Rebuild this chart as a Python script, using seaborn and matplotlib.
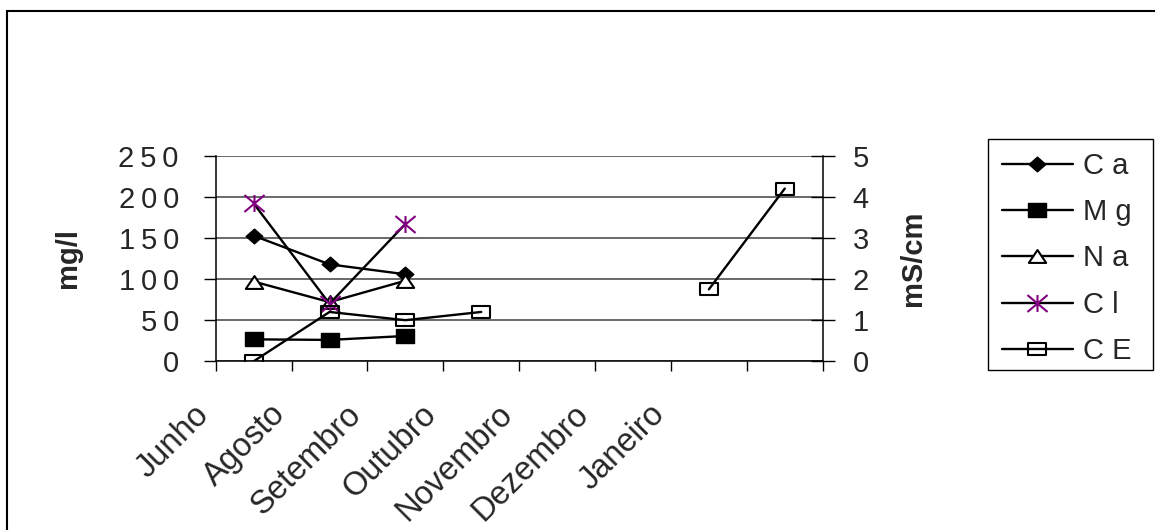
import numpy as np
import matplotlib
matplotlib.use("Agg")
import matplotlib.pyplot as plt
from matplotlib.path import Path
from matplotlib.patches import Rectangle
from matplotlib.transforms import ScaledTranslation
from matplotlib.ticker import FixedLocator, FuncFormatter
import seaborn as sns

nan = np.nan

# Sampling months (the last slot is unlabelled)
months = ["Junho", "Agosto", "Setembro", "Outubro", "Novembro", "Dezembro", "Janeiro", ""]

# Ion concentrations, mg/l
ca = [152.7, 117.9, 105.8, nan, nan, nan, nan, nan]
mg = [26.7, 26.0, 30.8, nan, nan, nan, nan, nan]
na = [97.0, 72.0, 98.0, nan, nan, nan, nan, nan]
cl = [192.0, 70.0, 167.0, nan, nan, nan, nan, nan]

# Electrical conductivity, mS/cm
ce = [0.0, 1.2, 1.0, 1.2, nan, nan, 1.75, 4.2]

mgl_ticks = [0, 50, 100, 150, 200, 250]
mscm_ticks = [0, 1, 2, 3, 4, 5]

sns.set_theme(style="white")
plt.rcParams["font.family"] = ["Liberation Sans", "DejaVu Sans"]
FS = 21
FS_X = 23.5

M, L, C = Path.MOVETO, Path.LINETO, Path.CLOSEPOLY


def box(h):
    return Path([(-0.5, -h), (0.5, -h), (0.5, h), (-0.5, h), (-0.5, -h)], [M, L, L, L, C])


diamond = Path([(0, 0.44), (0.5, 0), (0, -0.44), (-0.5, 0), (0, 0.44)], [M, L, L, L, C])
triangle = Path([(0, 0.37), (0.5, -0.37), (-0.5, -0.37), (0, 0.37)], [M, L, L, C])
star = Path([(0, -0.42), (0, 0.42), (-0.5, -0.42), (0.5, 0.42), (-0.5, 0.42), (0.5, -0.42)],
            [M, L, M, L, M, L])

LW = 1.7
styles = {
    "Ca": dict(marker=diamond, markersize=12, markerfacecolor="black", markeredgecolor="black",
               markeredgewidth=1.0),
    "Mg": dict(marker=box(0.39), markersize=13.5, markerfacecolor="black", markeredgecolor="black",
               markeredgewidth=1.0),
    "Na": dict(marker=triangle, markersize=12.5, markerfacecolor="white", markeredgecolor="black",
               markeredgewidth=1.5),
    "Cl": dict(marker=star, markersize=14.5, markerfacecolor="none", markeredgecolor="#800080",
               markeredgewidth=1.5),
    "CE": dict(marker=box(0.37), markersize=12.5, markerfacecolor="none", markeredgecolor="black",
               markeredgewidth=1.5),
}


def draw(axis, values, label, style):
    y = np.asarray(values, dtype=float)
    x = np.arange(len(y))
    idx = np.flatnonzero(~np.isnan(y))
    runs = np.split(idx, np.flatnonzero(np.diff(idx) > 1) + 1)
    for i, r in enumerate(runs):
        sns.lineplot(x=x[r], y=y[r], ax=axis, color="black", linewidth=LW, sort=False,
                     estimator=None, errorbar=None, legend=False,
                     label=label if i == 0 else "_nolegend_", **style)


W, H = 1155, 530
fig = plt.figure(figsize=(W / 100, H / 100), dpi=100)
fig.patch.set_facecolor("white")
x0, x1, ytop, ybot = 215.7, 822.7, 155.7, 361.3
ax = fig.add_axes([x0 / W, 1 - ybot / H, (x1 - x0) / W, (ybot - ytop) / H])
ax2 = ax.twinx()

draw(ax, ca, "C a", styles["Ca"])
draw(ax, mg, "M g", styles["Mg"])
draw(ax, na, "N a", styles["Na"])
draw(ax, cl, "C l", styles["Cl"])
draw(ax2, ce, "C E", styles["CE"])

# Category axis
ax.set_xlim(-0.5, len(months) - 0.5)
ax.set_xticks(np.arange(len(months)))
ax.set_xticklabels(months, rotation=45, ha="right", va="top", rotation_mode="anchor",
                   fontsize=FS_X)
ax.xaxis.set_minor_locator(FixedLocator(np.arange(-0.5, len(months), 1.0)))
ax.tick_params(axis="x", which="major", length=0, pad=27)
ax.tick_params(axis="x", which="minor", length=7.5, width=1.0, color="black", direction="out",
               bottom=True)
shift = ScaledTranslation(-60 / 100, 0, fig.dpi_scale_trans)
for lbl in ax.get_xticklabels():
    lbl.set_transform(lbl.get_transform() + shift)

# mg/l axis
ax.set_ylim(0, 250)
ax.set_yticks(mgl_ticks)
ax.yaxis.set_major_formatter(FuncFormatter(lambda v, p: "\u2009".join(str(int(round(v))))))
ax.tick_params(axis="y", length=8.6, width=1.0, color="black", direction="out", pad=18,
               labelsize=FS, left=True)
ax.yaxis.grid(True, color="#404040", linewidth=1.1)
ax.xaxis.grid(False)
ax.set_ylabel("mg/l", fontsize=FS, fontweight="bold")
ax.yaxis.set_label_coords(-0.22, 0.5)

# mS/cm axis
ax2.set_ylim(0, 5)
ax2.set_yticks(mscm_ticks)
ax2.tick_params(axis="y", length=17.3, width=1.0, color="black", direction="inout", pad=13,
                labelsize=FS, right=True)
ax2.grid(False)
ax2.set_ylabel("mS/cm", fontsize=FS, fontweight="bold")
ax2.yaxis.set_label_coords(1.125, 0.5)

for a in (ax, ax2):
    for s in a.spines.values():
        s.set_color("black")
        s.set_linewidth(1.1)
    a.spines["top"].set_visible(False)
ax.spines["right"].set_visible(False)
ax2.spines["left"].set_visible(False)
ax2.spines["bottom"].set_visible(False)

# Legend box with its entries
fig.patches.append(Rectangle((988 / W, 1 - 370 / H), 165 / W, 231 / H, transform=fig.transFigure,
                             facecolor="white", edgecolor="black", linewidth=1.0, zorder=2))
h1, l1 = ax.get_legend_handles_labels()
h2, l2 = ax2.get_legend_handles_labels()
leg = fig.legend(h1 + h2, l1 + l2, loc="upper left", bbox_to_anchor=(993 / W, 1 - 143 / H),
                 bbox_transform=fig.transFigure, frameon=False, borderaxespad=0, fontsize=FS,
                 handlelength=2.45, handletextpad=0.35, labelspacing=0.63, borderpad=0.3)

# Outer chart border
fig.patches.append(Rectangle((7 / W, -0.05), 1.1, 1 - 11 / H + 0.05, transform=fig.transFigure,
                             fill=False, linewidth=1.5, edgecolor="black"))

fig.savefig("out.png", dpi=100)
